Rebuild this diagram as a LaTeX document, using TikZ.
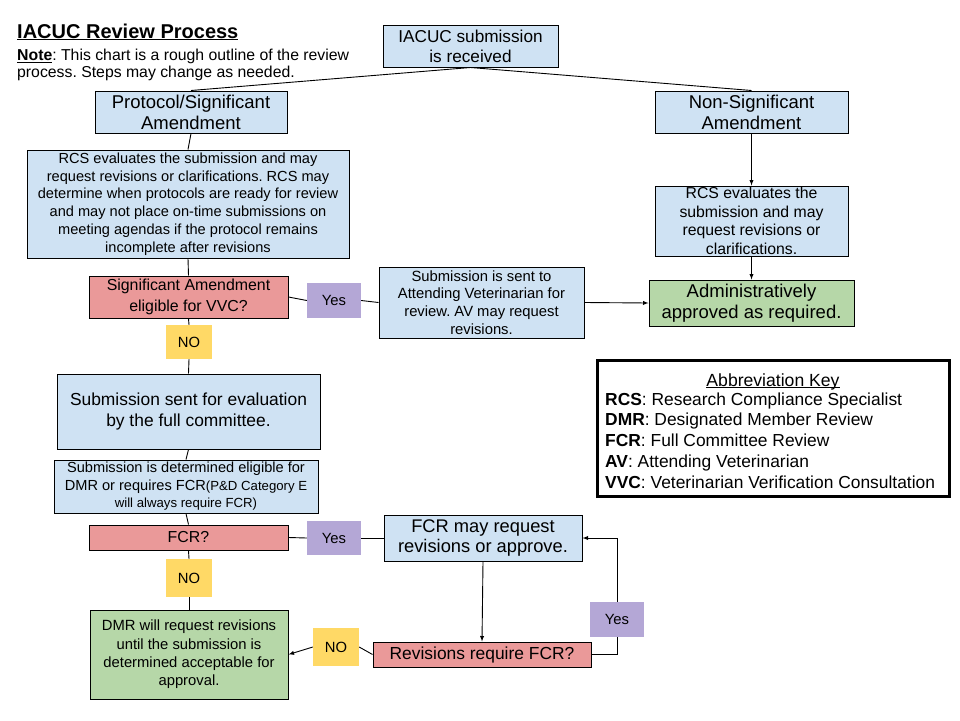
\documentclass[tikz,border=0pt]{standalone}
\usepackage{fontspec}
\setmainfont{Liberation Sans}
\usetikzlibrary{arrows}
\frenchspacing
\definecolor{stepblue}{HTML}{cfe2f3}
\definecolor{askred}{HTML}{ea9999}
\definecolor{yespurple}{HTML}{b4a7d6}
\definecolor{noyellow}{HTML}{ffd966}
\definecolor{donegreen}{HTML}{b6d7a8}
\newcommand{\fsz}[2]{\fontsize{#1}{#2}\selectfont}
\newcommand{\undl}[1]{\setbox0=\hbox{#1}\rlap{\rule[-2.4pt]{\wd0}{1pt}}\box0}
\tikzset{flow box/.style={
    draw,line width=1pt,fill=#1,align=center,inner sep=1pt}}
\tikzset{tag box/.style={
    fill=#1,minimum width=54pt,minimum height=35pt,inner sep=0pt,
    font=\fsz{14.8}{17}}}
\tikzset{wire/.style={line width=0.9pt}}

\begin{document}
\begin{tikzpicture}[x=1pt,y=-1pt]
  \path[use as bounding box] (0,0) rectangle (960,720);
  % heading
  \node[anchor=base west,inner sep=0pt,font=\bfseries\fsz{20}{22}] (title)
    at (17,38) {\undl{IACUC Review Process}};
  \node[anchor=north west,inner sep=0pt,align=left,font=\fsz{15.8}{17}] (note)
    at (17,48.5) {\undl{\textbf{Note}}: This chart is a rough outline of the review\\
    process. Steps may change as needed.};
  % top row
  \node[flow box=stepblue,minimum width=175pt,minimum height=42pt,
    font=\fsz{17.2}{20}] (sub) at (470.5,46) {IACUC submission\\is received};
  \node[flow box=stepblue,minimum width=192pt,minimum height=42pt,inner sep=0pt,
    font=\fsz{18.5}{21}] (prot) at (191,112) {Protocol/Significant\\Amendment};
  \node[flow box=stepblue,minimum width=193pt,minimum height=42pt,inner sep=0pt,
    font=\fsz{18.5}{21}] (nonsig) at (751.5,112) {Non-Significant\\Amendment};
  % left column
  \node[flow box=stepblue,minimum width=322pt,minimum height=108pt,inner sep=0pt,
    font=\fsz{14.6}{17.8}] (rcsL) at (188,204)
    {RCS evaluates the submission and may\\
     request revisions or clarifications. RCS may\\
     determine when protocols are ready for review\\
     and may not place on-time submissions on\\
     meeting agendas if the protocol remains\\
     incomplete after revisions};
  \node[flow box=askred,minimum width=199pt,minimum height=42pt,inner sep=0pt,
    font=\fsz{15.9}{20.5}] (vvc) at (188.5,297)
    {Significant Amendment\\eligible for VVC?};
  \node[tag box=yespurple] (yesA) at (334,300.5) {Yes};
  \node[flow box=stepblue,minimum width=205pt,minimum height=71pt,inner sep=0pt,
    font=\fsz{14.8}{17.8}] (av) at (481.5,302.5)
    {Submission is sent to\\Attending Veterinarian for\\
     review. AV may request\\revisions.};
  \node[tag box=noyellow,minimum width=46pt,minimum height=34pt] (noA)
    at (189,342) {NO};
  \node[flow box=stepblue,minimum width=263pt,minimum height=75pt,
    font=\fsz{17.4}{21}] (full) at (188.5,411.5)
    {Submission sent for evaluation\\by the full committee.};
  \node[flow box=stepblue,minimum width=264pt,minimum height=53pt,inner sep=0pt,
    font=\fsz{14.6}{17.5}] (elig) at (186,486.5)
    {Submission is determined eligible for\\
     DMR or requires FCR{\fsz{13.2}{17.5}(P\&D Category E}\\
     {\fsz{13.2}{17.5}will always require FCR)}};
  \node[flow box=askred,minimum width=199pt,minimum height=25pt,inner sep=0pt,
    font=\fsz{15.9}{18}] (fcr) at (188.5,537.5) {FCR?};
  \node[tag box=yespurple,minimum height=34pt] (yesB) at (334,538) {Yes};
  \node[flow box=stepblue,minimum width=198pt,minimum height=46pt,inner sep=0pt,
    font=\fsz{18.3}{20}] (fcrmay) at (483,538)
    {FCR may request\\revisions or approve.};
  \node[tag box=noyellow,minimum width=46pt,minimum height=38pt] (noB)
    at (189,578) {NO};
  \node[flow box=donegreen,minimum width=198pt,minimum height=89pt,
    font=\fsz{14.8}{18.3}] (dmr) at (189,654.5)
    {DMR will request revisions\\until the submission is\\
     determined acceptable for\\approval.};
  \node[tag box=noyellow,minimum width=46pt,minimum height=38pt] (noC)
    at (336,647) {NO};
  \node[flow box=askred,minimum width=218pt,minimum height=25pt,inner sep=0pt,
    font=\fsz{17.4}{18}] (revreq) at (482,654.5) {Revisions require FCR?};
  \node[tag box=yespurple] (yesC) at (617,619.5) {Yes};
  % right column
  \node[flow box=stepblue,minimum width=193pt,minimum height=70pt,inner sep=0pt,
    font=\fsz{15.8}{18.6}] (rcsR) at (751.5,221)
    {RCS evaluates the\\submission and may\\
     request revisions or\\clarifications.};
  \node[flow box=donegreen,minimum width=205pt,minimum height=46pt,inner sep=0pt,
    font=\fsz{18.5}{21}] (admin) at (751.5,303)
    {Administratively\\approved as required.};
  % abbreviation key
  \node[draw,line width=3pt,minimum width=352pt,minimum height=136pt]
    (key) at (773,428.5) {};
  \node[anchor=base,inner sep=0pt,font=\fsz{17.6}{20}] (keyhead)
    at (773,386) {\undl{Abbreviation Key}};
  \foreach \abbr/\longform [count=\i] in {RCS/Research Compliance Specialist,
      DMR/Designated Member Review,FCR/Full Committee Review,
      AV/Attending Veterinarian,VVC/Veterinarian Verification Consultation}
    \node[anchor=base west,inner sep=0pt,font=\fsz{17.4}{20}] (key\i)
      at (605,{384.25+20.75*\i}) {\textbf{\abbr}: \longform};
  % connectors
  \draw[wire] (sub.south) -- (prot.north);
  \draw[wire] (sub.south) -- (nonsig.north);
  \draw[wire] (prot.south) -- (rcsL.north);
  \draw[wire,-latex] (nonsig.south) -- (rcsR.north);
  \draw[wire,-latex] (rcsR.south) -- (admin.north);
  \draw[wire] (rcsL.south) -- (vvc.north);
  \draw[wire] (vvc.east) -- (yesA.west);
  \draw[wire] (yesA.east) -- (av.west);
  \draw[wire,-latex] (av.east) -- (admin.west);
  \draw[wire] (vvc.south) -- (noA.north);
  \draw[wire] (noA.south) -- (full.north);
  \draw[wire] (full.south) -- (elig.north);
  \draw[wire] (elig.south) -- (fcr.north);
  \draw[wire] (fcr.east) -- (yesB.west);
  \draw[wire] (yesB.east) -- (fcrmay.west);
  \draw[wire] (fcr.south) -- (noB.north);
  \draw[wire] (noB.south) -- (dmr.north);
  \draw[wire,-latex] (fcrmay.south) -- (revreq.north);
  \draw[wire] (revreq.west) -- (noC.east);
  \draw[wire,-latex] (noC.west) -- (dmr.east);
  \draw[wire] (revreq.east) -| (yesC.south);
  \draw[wire,-latex] (yesC.north) |- (fcrmay.east);
\end{tikzpicture}
\end{document}
